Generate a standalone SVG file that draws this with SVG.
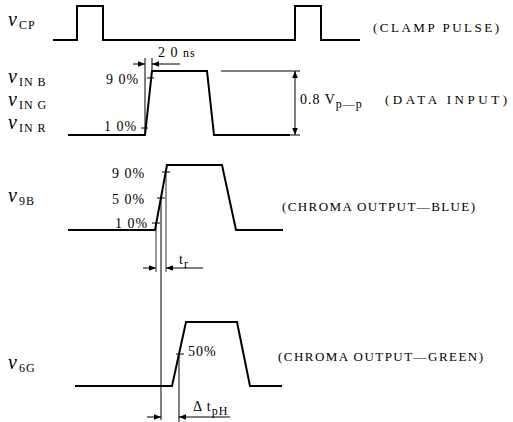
<svg xmlns="http://www.w3.org/2000/svg" width="513" height="422" viewBox="0 0 513 422">
<style>
.w{fill:none;stroke:#000;stroke-width:2;stroke-linejoin:miter}
.t{fill:none;stroke:#000;stroke-width:1}
.d{fill:none;stroke:#000;stroke-width:0.8}
.lb{font-family:"Liberation Serif",serif;font-size:13px;letter-spacing:2px;fill:#000}
.pc{font-family:"Liberation Serif",serif;font-size:14px;letter-spacing:1px;fill:#000}
.v{font-family:"Liberation Serif",serif;font-style:italic;font-size:20px;fill:#000}
.s{font-family:"Liberation Serif",serif;font-style:normal;font-size:12px;letter-spacing:1px;fill:#000}
</style>
<defs>
<marker id="ah" viewBox="0 0 10 10" refX="10" refY="5" markerWidth="7" markerHeight="7" orient="auto-start-reverse" markerUnits="userSpaceOnUse">
<path d="M0,1 L10,5 L0,9 Z" fill="#000"/>
</marker>
</defs>

<g id="labels">
<text class="v" x="8" y="26">v<tspan class="s" dy="3" dx="2">CP</tspan></text>
<text class="v" x="8" y="83">v<tspan class="s" dy="3" dx="2">IN B</tspan></text>
<text class="v" x="8" y="106">v<tspan class="s" dy="3" dx="2">IN G</tspan></text>
<text class="v" x="8" y="129">v<tspan class="s" dy="3" dx="2">IN R</tspan></text>
<text class="v" x="8" y="202">v<tspan class="s" dy="3" dx="2">9B</tspan></text>
<text class="v" x="8" y="369">v<tspan class="s" dy="3" dx="2">6G</tspan></text>
</g>

<g id="clamp">
<polyline class="w" points="53,40 77,40 77,6 103,6 103,40 295,40 295,6 321,6 321,40 360,40"/>
<text class="lb" x="373" y="32" textLength="128">(CLAMP PULSE)</text>
</g>

<g id="data">
<polyline class="w" points="68,135 145,135 152,71 207,71 214,135 290,135"/>
<line class="t" x1="221" y1="71" x2="300" y2="71"/>
<line class="t" x1="290" y1="135" x2="300" y2="135"/>
<text class="pc" x="106" y="84">9 0%</text>
<text class="pc" x="104" y="131">1 0%</text>
<line class="t" x1="147" y1="78" x2="154" y2="78"/>
<line class="t" x1="141" y1="128" x2="148" y2="128"/>
<text class="pc" x="158" y="57">2 0 <tspan font-size="12">ns</tspan></text>
<text class="pc" x="300" y="104" letter-spacing="0">0.8 V<tspan class="s" dy="4">p—p</tspan></text>
<text class="lb" x="385" y="104" textLength="124">(DATA INPUT)</text>
</g>

<g id="blue">
<polyline class="w" points="68,230 155,230 167,165 222,165 236,230 283,230"/>
<text class="pc" x="112" y="178">9 0%</text>
<text class="pc" x="112" y="204">5 0%</text>
<text class="pc" x="115" y="228">1 0%</text>
<line class="t" x1="162" y1="172" x2="170" y2="172"/>
<line class="t" x1="157" y1="198" x2="165" y2="198"/>
<line class="t" x1="152" y1="223" x2="160" y2="223"/>
<text class="pc" x="179" y="264" letter-spacing="2">t<tspan class="s" dy="4">r</tspan></text>
<text class="lb" x="282" y="211" textLength="195">(CHROMA OUTPUT—BLUE)</text>
</g>

<g id="green">
<polyline class="w" points="75,386 172,386 186,322 237,322 250,386 282,386"/>
<line class="t" x1="176" y1="354" x2="184" y2="354"/>
<text class="pc" x="188" y="356">50%</text>
<text class="pc" x="193" y="411" letter-spacing="2">Δ t<tspan class="s" dy="4">pH</tspan></text>
<text class="lb" x="278" y="361" textLength="207">(CHROMA OUTPUT—GREEN)</text>
</g>

<g id="connectors">
<line class="t" x1="145" y1="135" x2="145" y2="58"/>
<line class="t" x1="152" y1="71" x2="152" y2="58"/>
<line class="t" x1="133" y1="64" x2="145" y2="64" marker-end="url(#ah)"/>
<line class="t" x1="180" y1="64" x2="152" y2="64" marker-end="url(#ah)"/>
<line class="t" x1="295" y1="102" x2="295" y2="71" marker-end="url(#ah)"/>
<line class="t" x1="295" y1="102" x2="295" y2="135" marker-end="url(#ah)"/>
<line class="d" x1="156" y1="223" x2="156" y2="272"/>
<line class="t" x1="161" y1="198" x2="161" y2="420"/>
<line class="d" x1="166" y1="172" x2="166" y2="272"/>
<line class="t" x1="143" y1="268" x2="156" y2="268" marker-end="url(#ah)"/>
<line class="t" x1="203" y1="268" x2="166" y2="268" marker-end="url(#ah)"/>
<line class="t" x1="179" y1="354" x2="179" y2="422"/>
<line class="t" x1="147" y1="417" x2="161" y2="417" marker-end="url(#ah)"/>
<line class="t" x1="230" y1="417" x2="179" y2="417" marker-end="url(#ah)"/>
</g>
</svg>
